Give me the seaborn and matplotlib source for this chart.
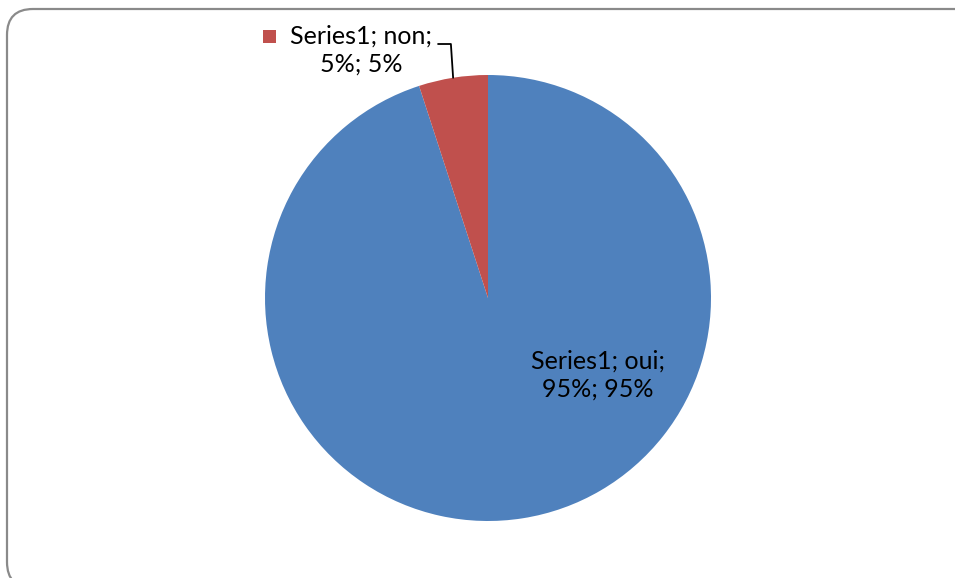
import numpy as np
import matplotlib.pyplot as plt
import seaborn as sns
from matplotlib.patches import FancyBboxPatch, Rectangle

sns.set_theme(style="white")
plt.rcParams['font.family'] = ['Lato', 'DejaVu Sans']

# données
serie = 'Series1'
categories = ['oui', 'non']
valeurs = [95, 5]
couleurs = ['#4F81BD', '#C0504D']

W, H = 955, 578
cx, cy, r = 488, 298, 223  # centre et rayon du camembert en pixels

fig = plt.figure(figsize=(W / 100, H / 100), dpi=100)
fig.patch.set_facecolor('white')

# cadre arrondi (coordonnées en fraction de figure)
cadre = FancyBboxPatch((7 / W, -10 / H), 974 / W, 579 / H,
                       boxstyle=f'round,pad=0,rounding_size={26 / W}',
                       mutation_aspect=W / H, transform=fig.transFigure,
                       facecolor='none', edgecolor='#8a8a8a', linewidth=1.6)
fig.patches.append(cadre)

ax = fig.add_axes([0, 0, 1, 1])
wedges, _ = ax.pie(valeurs, colors=couleurs, startangle=90, counterclock=False,
                   wedgeprops=dict(linewidth=0))
ax.set_aspect('auto')
ax.set_xlim(-cx / r, (W - cx) / r)
ax.set_ylim(-(H - cy) / r, cy / r)
ax.axis('off')

total = sum(valeurs)
etiquettes = [f'{serie}; {c};\n{v * 100 // total}%; {v * 100 // total}%' for c, v in zip(categories, valeurs)]
fs = 18

# étiquette "oui" dans la part
ax.text(0.493, -0.345, etiquettes[0], ha='center', va='center', fontsize=fs,
        color='black', linespacing=1.3)

# étiquette "non" à l'extérieur avec ligne de rappel
ax.text(-0.57, 1.112, etiquettes[1], ha='center', va='center', fontsize=fs,
        color='black', linespacing=1.3)
ax.add_patch(Rectangle((-1.008, 1.145), 0.058, 0.058, facecolor=couleurs[1], edgecolor='none'))

t1, t2 = wedges[1].theta1, wedges[1].theta2
mid = np.deg2rad((t1 + t2) / 2)
ex, ey = np.cos(mid), np.sin(mid)
ax.plot([-0.224, ex - 0.01, ex], [1.139, 1.139, ey], color='black', linewidth=1.3)

fig.savefig('out.png', dpi=100)
